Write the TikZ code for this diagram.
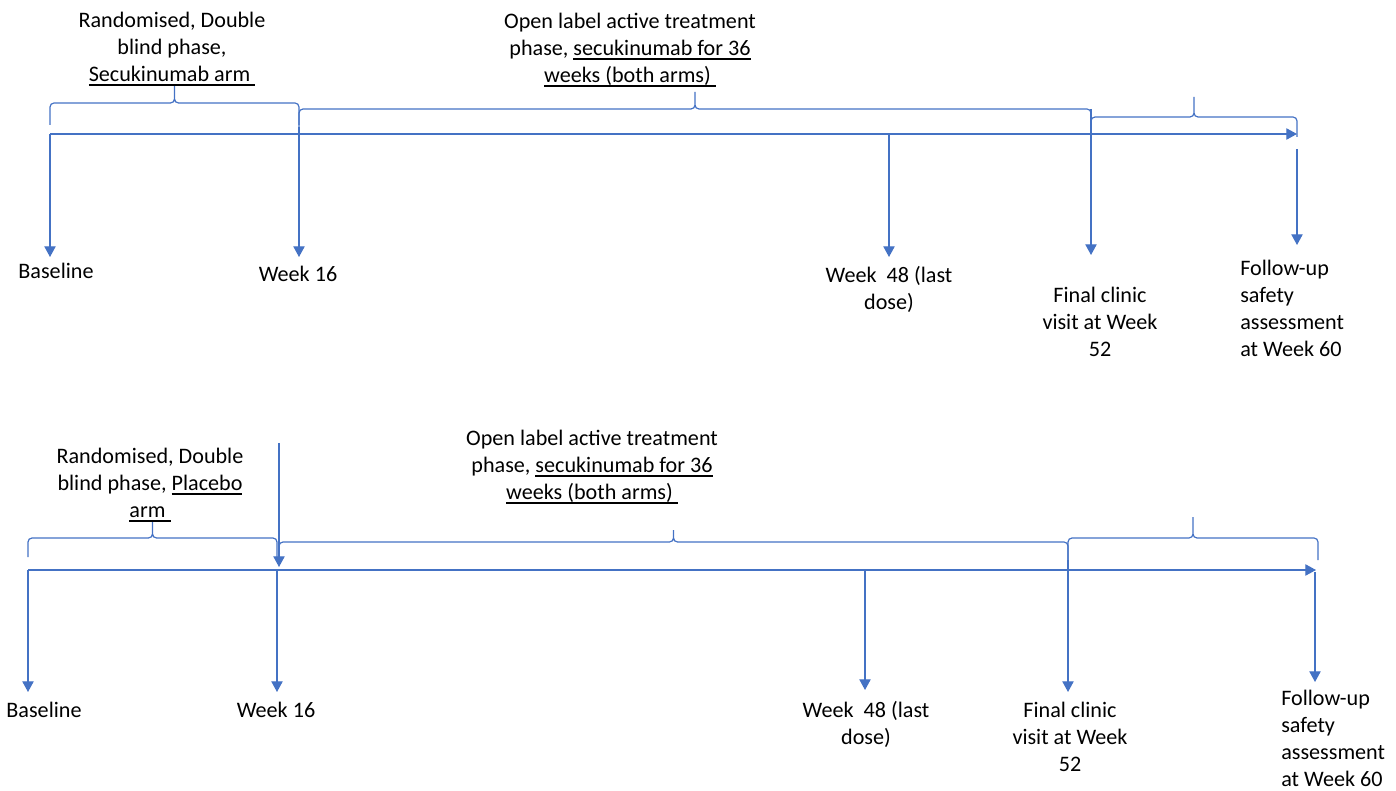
\documentclass[tikz,border=0pt]{standalone}
\usepackage{fontspec}
\setmainfont{Carlito}
\usepackage{tikz}
\usetikzlibrary{arrows.meta}
\definecolor{officeblue}{HTML}{4472C4}
\newsavebox\ulbox
\newcommand{\ulined}[1]{\sbox\ulbox{#1}\rlap{\rule[-3pt]{\wd\ulbox}{1pt}}\usebox\ulbox}
% x left, x right, y of the ends, y of the bar, y of the tip
\newcommand{\phasebrace}[5]{%
  \draw[blueline,rounded corners=3pt] (#1,#3) -- (#1,#4) -- ({(#1+#2)/2},#4) -- ({(#1+#2)/2},#5)
    ({(#1+#2)/2},#5) -- ({(#1+#2)/2},#4) -- (#2,#4) -- (#2,#3);}

\begin{document}
\begin{tikzpicture}[x=0.75pt,y=-0.75pt,
  blueline/.style={draw=officeblue,line width=0.9pt},
  evarrow/.style={blueline,-{Triangle[width=8.5pt,length=8pt]}},
  evlabel/.style={font=\fontsize{16.6}{20.25}\selectfont,align=center,inner sep=0pt,anchor=north}]
  \useasboundingbox (0,0) rectangle (1396,791);

  % ---- secukinumab arm ----
  \coordinate (axA-start) at (50,134);
  \coordinate (axA-end) at (1297,134);
  \draw[evarrow] (axA-start) -- (axA-end);
  \phasebrace{50}{299}{125}{103}{85}
  \phasebrace{299}{1091}{127}{109}{92}
  \phasebrace{1091}{1297}{137}{117}{97}
  \foreach \name/\x/\ya/\yb in {baseA/50/134/257, w16A/299/127/257, w48A/889/134/257,
                                finA/1091/109/255, fuA/1297/149/245}{
    \coordinate (\name-from) at (\x,\ya);
    \coordinate (\name-tip) at (\x,\yb);
    \draw[evarrow] (\name-from) -- (\name-tip);
  }
  \node[evlabel] (dbA) at (172,12) {Randomised, Double\\blind phase,\\\ulined{Secukinumab arm\ }};
  \node[evlabel] (olA) at (630,13) {Open label active treatment\\phase, \ulined{secukinumab for 36}\\\ulined{weeks (both arms)\ }};
  \node[evlabel] (baseA) at (56,263) {Baseline};
  \node[evlabel] (w16A) at (298,266) {Week 16};
  \node[evlabel] (w48A) at (889,266) {Week\ \ 48 (last\\dose)};
  \node[evlabel] (finA) at (1100,287) {Final clinic\\visit at Week\\52};
  \node[evlabel,anchor=north west,align=left] (fuA) at (1240,260) {Follow-up\\safety\\assessment\\at Week 60};

  % ---- placebo arm ----
  \coordinate (axB-start) at (28,570);
  \coordinate (axB-end) at (1316,570);
  \draw[evarrow] (axB-start) -- (axB-end);
  \phasebrace{28}{277}{557}{538}{522}
  \phasebrace{279}{1068}{560}{542}{530}
  \phasebrace{1068}{1318}{560}{538}{517}
  \foreach \name/\x/\ya/\yb in {baseB/28/570/692, w16B/277/570/692, w48B/865/570/690,
                                finB/1068/560/692, fuB/1315/572/682, swB/279/443/567}{
    \coordinate (\name-from) at (\x,\ya);
    \coordinate (\name-tip) at (\x,\yb);
    \draw[evarrow] (\name-from) -- (\name-tip);
  }
  \node[evlabel] (dbB) at (150,448) {Randomised, Double\\blind phase, \ulined{Placebo}\\\ulined{arm\ }};
  \node[evlabel] (olB) at (592,430) {Open label active treatment\\phase, \ulined{secukinumab for 36}\\\ulined{weeks (both arms)\ }};
  \node[evlabel] (baseB) at (44,702) {Baseline};
  \node[evlabel] (w16B) at (276,702) {Week 16};
  \node[evlabel] (w48B) at (866,701) {Week\ \ 48 (last\\dose)};
  \node[evlabel] (finB) at (1070,702) {Final clinic\\visit at Week\\52};
  \node[evlabel,anchor=north west,align=left] (fuB) at (1281,690) {Follow-up\\safety\\assessment\\at Week 60};
\end{tikzpicture}
\end{document}
